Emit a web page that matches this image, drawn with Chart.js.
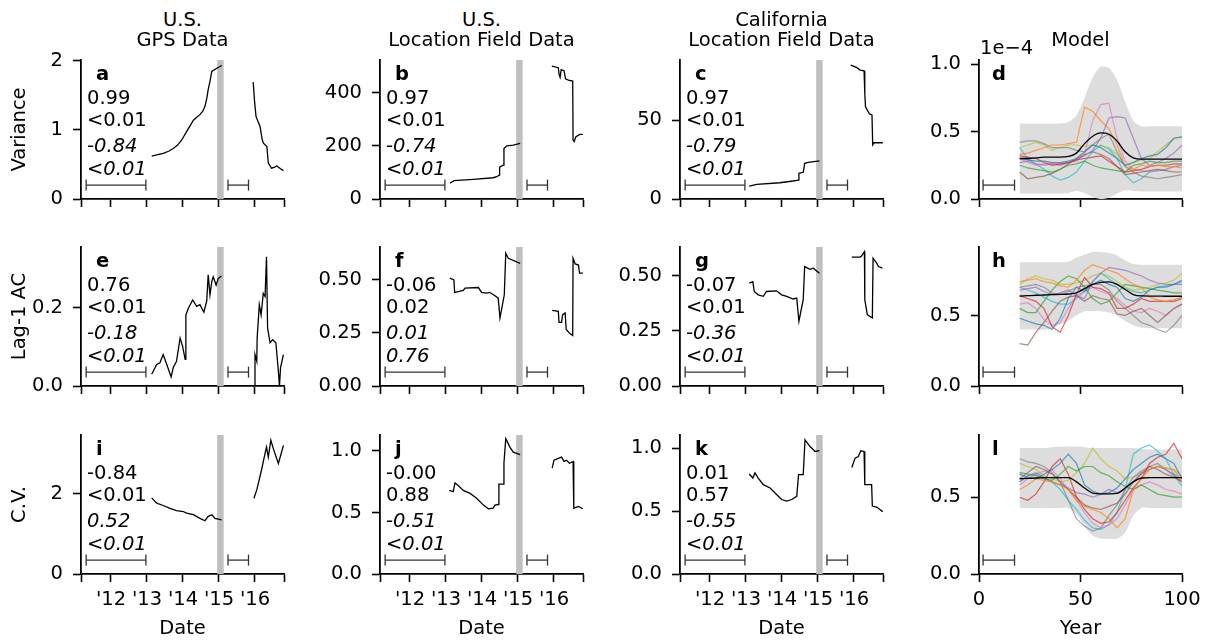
<!DOCTYPE html>
<html><head><meta charset="utf-8">
<script src="https://cdn.jsdelivr.net/npm/chart.js"></script>
<style>
body{margin:0;width:1209px;height:641px;background:#fff;position:relative;overflow:hidden;font-family:"DejaVu Sans",sans-serif;}
canvas{position:absolute;}
.t{position:absolute;font-size:19.5px;line-height:19.5px;white-space:nowrap;color:#000;}
</style></head><body>
<script>
// ---------- axes / ticks ----------
const dateRange = [2011.167, 2016.806];
const yearTicks = [2012, 2013, 2014, 2015, 2016];
const yearLabels = ["'12", "'13", "'14", "'15", "'16"];
const modelTicks = [0, 50, 100];
const modelLabels = ["0", "50", "100"];
const closureBand = [2014.95, 2015.13];
const dateWindows = [[2011.31, 2012.97], [2015.25, 2015.82]];
const modelWindow = [2, 17.5];
const rowTitles = ["Variance", "Lag-1 AC", "C.V."];
const colTitles = [["U.S.", "GPS Data"], ["U.S.", "Location Field Data"], ["California", "Location Field Data"], ["Model"]];
const panelLetters = ["a","b","c","d","e","f","g","h","i","j","k","l"];
const panelStats = {
  a: ["0.99","<0.01","-0.84","<0.01"], b: ["0.97","<0.01","-0.74","<0.01"], c: ["0.97","<0.01","-0.79","<0.01"],
  e: ["0.76","<0.01","-0.18","<0.01"], f: ["-0.06","0.02","0.01","0.76"], g: ["-0.07","<0.01","-0.36","<0.01"],
  i: ["-0.84","<0.01","0.52","<0.01"], j: ["-0.00","0.88","-0.51","<0.01"], k: ["0.01","0.57","-0.55","<0.01"]
};
const yTicksA = [0,1,2], yTicksB = [0,200,400], yTicksC = [0,50], yTicksD = [0,0.5,1.0];
const yTicksE = [0,0.2], yTicksF = [0,0.25,0.5], yTicksG = [0,0.25,0.5], yTicksH = [0,0.5];
const yTicksI = [0,2], yTicksJ = [0,0.5,1.0], yTicksK = [0,0.5,1.0], yTicksL = [0,0.5];
const yMaxes = {a:2.01,b:523,c:88,d:1.03,e:0.354,f:0.655,g:0.631,h:0.985,i:3.47,j:1.13,k:1.105,l:0.905};

// ---------- observed series: [year, value] ----------
const aSeg1 = [[2013.13,0.62],[2013.30,0.64],[2013.45,0.66],[2013.60,0.69],[2013.73,0.73],[2013.85,0.78],[2013.96,0.85],[2014.10,0.975],[2014.20,1.06],[2014.29,1.14],[2014.40,1.19],[2014.47,1.22],[2014.55,1.27],[2014.61,1.34],[2014.66,1.45],[2014.70,1.58],[2014.75,1.70],[2014.80,1.845],[2014.94,1.89],[2015.08,1.93]];
const aSeg2 = [[2015.95,1.69],[2015.99,1.40],[2016.03,1.19],[2016.14,1.05],[2016.20,0.86],[2016.23,0.81],[2016.33,0.76],[2016.37,0.52],[2016.46,0.445],[2016.55,0.46],[2016.60,0.48],[2016.70,0.44],[2016.79,0.41]];
const bSeg1 = [[2013.11,59],[2013.22,69],[2013.76,74],[2014.31,80],[2014.41,84],[2014.48,90],[2014.49,120],[2014.60,128],[2014.61,190],[2014.69,200],[2014.87,203],[2015.06,209]];
const bSeg2 = [[2015.94,500],[2016.12,494],[2016.14,470],[2016.17,458],[2016.20,487],[2016.28,483],[2016.32,452],[2016.40,447],[2016.52,444],[2016.53,222],[2016.56,216],[2016.61,234],[2016.72,243],[2016.80,243]];
const cSeg1 = [[2013.09,8.2],[2013.30,9.3],[2013.94,10.3],[2014.31,11.4],[2014.45,12],[2014.47,16.3],[2014.59,16.9],[2014.63,22.6],[2014.73,23.2],[2015.04,24.2]];
const cSeg2 = [[2015.91,84.8],[2016.07,83.3],[2016.17,81.6],[2016.28,81.2],[2016.30,67],[2016.32,58.4],[2016.43,53.8],[2016.50,53.2],[2016.52,34.2],[2016.56,35.6],[2016.80,35.6]];
const eSeg1 = [[2013.13,0.030],[2013.27,0.055],[2013.36,0.059],[2013.45,0.080],[2013.55,0.055],[2013.67,0.023],[2013.73,0.047],[2013.82,0.063],[2013.92,0.122],[2013.99,0.101],[2014.06,0.068],[2014.08,0.181],[2014.15,0.198],[2014.27,0.219],[2014.38,0.203],[2014.47,0.207],[2014.58,0.188],[2014.66,0.217],[2014.70,0.283],[2014.75,0.232],[2014.80,0.266],[2014.84,0.278],[2014.92,0.257],[2014.98,0.274],[2015.07,0.280]];
const eSeg2 = [[2015.98,0.0],[2016.0,0.080],[2016.05,0.063],[2016.06,0.122],[2016.12,0.207],[2016.17,0.181],[2016.23,0.236],[2016.28,0.228],[2016.32,0.329],[2016.35,0.148],[2016.42,0.110],[2016.49,0.118],[2016.58,0.110],[2016.65,0.038],[2016.68,0.0],[2016.71,0.047],[2016.79,0.080]];
const fSeg1 = [[2013.11,0.508],[2013.22,0.50],[2013.24,0.441],[2013.34,0.445],[2013.48,0.45],[2013.53,0.461],[2013.90,0.464],[2013.99,0.441],[2014.13,0.438],[2014.22,0.441],[2014.36,0.425],[2014.45,0.414],[2014.50,0.32],[2014.62,0.43],[2014.66,0.625],[2014.73,0.602],[2015.06,0.578]];
const fSeg2 = [[2015.95,0.356],[2016.12,0.352],[2016.14,0.30],[2016.21,0.30],[2016.24,0.336],[2016.31,0.344],[2016.34,0.266],[2016.44,0.247],[2016.52,0.238],[2016.53,0.602],[2016.59,0.575],[2016.68,0.57],[2016.71,0.532],[2016.81,0.532]];
const gSeg1 = [[2013.09,0.467],[2013.19,0.474],[2013.23,0.429],[2013.34,0.414],[2013.48,0.407],[2013.57,0.429],[2013.85,0.432],[2013.99,0.414],[2014.13,0.407],[2014.31,0.395],[2014.41,0.399],[2014.47,0.294],[2014.59,0.392],[2014.63,0.542],[2014.78,0.53],[2014.87,0.535],[2015.04,0.512]];
const gSeg2 = [[2015.94,0.585],[2016.17,0.585],[2016.21,0.59],[2016.29,0.61],[2016.30,0.392],[2016.37,0.324],[2016.44,0.316],[2016.51,0.309],[2016.53,0.58],[2016.63,0.558],[2016.68,0.542],[2016.79,0.535]];
const iSeg1 = [[2013.13,1.90],[2013.27,1.77],[2013.45,1.71],[2013.64,1.64],[2013.82,1.58],[2014.01,1.56],[2014.10,1.52],[2014.29,1.48],[2014.47,1.39],[2014.61,1.33],[2014.70,1.44],[2014.80,1.48],[2014.89,1.39],[2015.07,1.35]];
const iSeg2 = [[2015.97,1.89],[2016.05,2.10],[2016.18,2.59],[2016.28,3.01],[2016.32,3.17],[2016.37,2.92],[2016.44,3.34],[2016.51,3.13],[2016.65,2.76],[2016.79,3.21]];
const jSeg1 = [[2013.09,0.68],[2013.20,0.67],[2013.25,0.74],[2013.34,0.72],[2013.48,0.68],[2013.67,0.655],[2013.85,0.615],[2014.04,0.56],[2014.18,0.53],[2014.31,0.535],[2014.36,0.56],[2014.45,0.565],[2014.47,0.73],[2014.59,0.73],[2014.61,0.9],[2014.66,1.1],[2014.78,1.03],[2014.87,0.99],[2015.06,0.97]];
const jSeg2 = [[2015.95,0.86],[2016.0,0.925],[2016.12,0.94],[2016.21,0.95],[2016.28,0.915],[2016.35,0.925],[2016.43,0.9],[2016.53,0.915],[2016.55,0.535],[2016.68,0.55],[2016.8,0.53]];
const kSeg1 = [[2013.09,0.795],[2013.19,0.763],[2013.25,0.803],[2013.34,0.763],[2013.48,0.71],[2013.67,0.684],[2013.85,0.632],[2013.99,0.592],[2014.13,0.579],[2014.27,0.592],[2014.41,0.618],[2014.46,0.79],[2014.59,0.79],[2014.64,1.066],[2014.78,1.013],[2014.92,0.974],[2015.04,0.98]];
const kSeg2 = [[2015.94,0.847],[2016.03,0.921],[2016.12,0.934],[2016.19,0.979],[2016.28,0.974],[2016.30,0.71],[2016.49,0.71],[2016.51,0.54],[2016.63,0.532],[2016.8,0.495]];

// ---------- model: years grid and runs ----------
const modelYears = [20,24,28,32,36,40,44,48,52,56,60,64,68,72,76,80,84,88,92,96,100];
const runColors = ['rgba(31,119,180,0.7)','rgba(255,127,14,0.7)','rgba(44,160,44,0.7)','rgba(214,39,40,0.7)','rgba(148,103,189,0.7)','rgba(140,86,75,0.7)','rgba(227,119,194,0.7)','rgba(127,127,127,0.7)','rgba(188,189,34,0.7)','rgba(23,190,207,0.7)'];
// order: blue, orange, green, red, purple, brown, pink, gray, olive, cyan
const dRuns = [
  [0.30,0.29,0.28,0.28,0.27,0.27,0.28,0.30,0.35,0.40,0.38,0.34,0.30,0.25,0.27,0.30,0.32,0.33,0.38,0.45,0.46],
  [0.33,0.34,0.36,0.38,0.40,0.40,0.41,0.42,0.68,0.65,0.58,0.52,0.40,0.24,0.22,0.25,0.24,0.25,0.24,0.24,0.23],
  [0.25,0.23,0.22,0.21,0.20,0.22,0.25,0.26,0.28,0.25,0.23,0.22,0.21,0.20,0.25,0.26,0.28,0.27,0.27,0.28,0.28],
  [0.32,0.31,0.30,0.27,0.25,0.26,0.27,0.29,0.30,0.31,0.32,0.28,0.24,0.20,0.21,0.22,0.24,0.25,0.25,0.26,0.26],
  [0.27,0.28,0.26,0.25,0.26,0.25,0.27,0.29,0.32,0.36,0.45,0.60,0.61,0.60,0.45,0.30,0.25,0.27,0.30,0.34,0.40],
  [0.20,0.15,0.16,0.17,0.19,0.22,0.26,0.30,0.33,0.35,0.33,0.30,0.24,0.18,0.19,0.20,0.21,0.22,0.21,0.20,0.20],
  [0.30,0.27,0.25,0.26,0.27,0.26,0.27,0.28,0.33,0.58,0.70,0.71,0.45,0.28,0.22,0.21,0.20,0.21,0.22,0.24,0.25],
  [0.42,0.43,0.43,0.41,0.38,0.38,0.38,0.36,0.35,0.40,0.45,0.48,0.35,0.24,0.20,0.17,0.16,0.15,0.16,0.17,0.18],
  [0.38,0.40,0.42,0.40,0.36,0.38,0.40,0.40,0.39,0.40,0.39,0.38,0.33,0.25,0.27,0.29,0.30,0.35,0.40,0.45,0.46],
  [0.38,0.30,0.26,0.22,0.17,0.14,0.16,0.20,0.28,0.35,0.40,0.37,0.30,0.18,0.12,0.15,0.20,0.21,0.22,0.24,0.25]
];
const dUpper = [0.56,0.56,0.56,0.56,0.56,0.56,0.57,0.62,0.75,0.90,0.98,0.97,0.88,0.72,0.58,0.54,0.54,0.54,0.54,0.54,0.54];
const dLower = [0.04,0.04,0.04,0.04,0.04,0.04,0.045,0.06,0.045,0.015,0.0,0.01,0.04,0.065,0.06,0.055,0.055,0.055,0.055,0.055,0.055];
const dMean = [0.30,0.30,0.305,0.31,0.31,0.31,0.315,0.34,0.41,0.465,0.49,0.48,0.43,0.35,0.305,0.295,0.295,0.295,0.295,0.295,0.295];

const hRuns = [
  [0.48,0.46,0.44,0.43,0.40,0.48,0.62,0.70,0.67,0.72,0.75,0.72,0.70,0.62,0.60,0.63,0.68,0.70,0.70,0.72,0.75],
  [0.74,0.75,0.76,0.74,0.73,0.71,0.70,0.75,0.82,0.86,0.84,0.82,0.80,0.76,0.72,0.70,0.63,0.61,0.60,0.61,0.63],
  [0.55,0.52,0.52,0.60,0.68,0.74,0.78,0.76,0.70,0.62,0.58,0.60,0.66,0.72,0.71,0.70,0.69,0.68,0.67,0.66,0.66],
  [0.64,0.62,0.60,0.55,0.42,0.38,0.50,0.65,0.77,0.70,0.69,0.66,0.55,0.55,0.58,0.62,0.60,0.60,0.60,0.60,0.62],
  [0.68,0.69,0.70,0.67,0.65,0.66,0.68,0.64,0.62,0.74,0.80,0.84,0.83,0.82,0.80,0.78,0.75,0.73,0.72,0.72,0.72],
  [0.30,0.29,0.38,0.45,0.53,0.60,0.63,0.64,0.60,0.64,0.62,0.61,0.51,0.50,0.53,0.55,0.50,0.45,0.50,0.55,0.58],
  [0.58,0.59,0.55,0.47,0.43,0.45,0.55,0.64,0.67,0.70,0.67,0.65,0.62,0.57,0.53,0.52,0.55,0.53,0.50,0.55,0.58],
  [0.70,0.71,0.72,0.70,0.66,0.65,0.67,0.70,0.71,0.72,0.72,0.68,0.60,0.55,0.50,0.45,0.43,0.40,0.38,0.43,0.50],
  [0.72,0.76,0.78,0.76,0.75,0.72,0.72,0.73,0.75,0.78,0.80,0.78,0.74,0.70,0.68,0.69,0.70,0.72,0.73,0.75,0.80],
  [0.70,0.68,0.66,0.63,0.60,0.58,0.58,0.62,0.67,0.74,0.80,0.76,0.72,0.69,0.67,0.66,0.68,0.70,0.71,0.72,0.74]
];
const hUpper = [0.877,0.877,0.877,0.877,0.877,0.877,0.88,0.91,0.93,0.95,0.95,0.945,0.925,0.89,0.865,0.86,0.86,0.86,0.86,0.86,0.86];
const hLower = [0.40,0.40,0.40,0.40,0.41,0.436,0.46,0.50,0.53,0.53,0.53,0.52,0.50,0.46,0.43,0.413,0.41,0.41,0.41,0.41,0.41];
const hMean = [0.637,0.64,0.643,0.645,0.647,0.649,0.652,0.66,0.69,0.72,0.735,0.738,0.72,0.684,0.648,0.638,0.637,0.637,0.636,0.636,0.636];

const lRuns = [
  [0.65,0.63,0.62,0.65,0.68,0.72,0.78,0.72,0.58,0.54,0.52,0.53,0.56,0.62,0.68,0.72,0.76,0.78,0.75,0.72,0.62],
  [0.55,0.58,0.62,0.61,0.60,0.58,0.55,0.48,0.44,0.42,0.40,0.36,0.30,0.36,0.55,0.62,0.68,0.70,0.69,0.68,0.60],
  [0.66,0.65,0.64,0.62,0.61,0.65,0.70,0.67,0.70,0.70,0.66,0.64,0.60,0.57,0.55,0.58,0.55,0.52,0.51,0.50,0.50],
  [0.50,0.48,0.52,0.60,0.70,0.75,0.65,0.50,0.42,0.36,0.33,0.34,0.40,0.48,0.56,0.62,0.72,0.76,0.78,0.85,0.75],
  [0.60,0.64,0.66,0.63,0.60,0.58,0.56,0.53,0.52,0.50,0.52,0.55,0.53,0.55,0.60,0.66,0.68,0.70,0.68,0.65,0.62],
  [0.62,0.66,0.70,0.68,0.65,0.60,0.55,0.50,0.45,0.43,0.42,0.44,0.46,0.52,0.60,0.65,0.70,0.68,0.65,0.63,0.60],
  [0.58,0.62,0.65,0.67,0.68,0.62,0.55,0.48,0.40,0.33,0.30,0.32,0.36,0.45,0.55,0.58,0.60,0.58,0.55,0.54,0.52],
  [0.75,0.73,0.72,0.70,0.66,0.60,0.48,0.36,0.31,0.28,0.30,0.38,0.45,0.55,0.63,0.67,0.70,0.72,0.68,0.64,0.60],
  [0.72,0.70,0.68,0.64,0.62,0.60,0.61,0.66,0.72,0.82,0.75,0.70,0.67,0.62,0.63,0.65,0.68,0.70,0.69,0.68,0.64],
  [0.60,0.64,0.65,0.62,0.60,0.55,0.48,0.42,0.35,0.30,0.29,0.32,0.40,0.55,0.78,0.82,0.84,0.80,0.75,0.65,0.57]
];
const lUpper = [0.82,0.82,0.82,0.82,0.825,0.83,0.83,0.83,0.825,0.82,0.82,0.82,0.82,0.82,0.82,0.815,0.81,0.81,0.81,0.81,0.81];
const lLower = [0.43,0.43,0.43,0.43,0.43,0.43,0.43,0.39,0.31,0.25,0.23,0.23,0.23,0.27,0.38,0.43,0.43,0.43,0.43,0.43,0.43];
const lMean = [0.62,0.622,0.625,0.627,0.628,0.628,0.628,0.60,0.56,0.527,0.522,0.522,0.525,0.56,0.60,0.625,0.628,0.628,0.628,0.628,0.628];

// ---------- layout ----------
const COL_L = [81, 380, 680, 979];
const ROW_T = [60, 247, 435];
const AREA_W = 203, AREA_H = 139, PAD_T = 15, PAD_R = 24, Y_W = 81;
const FONT = {family: 'DejaVu Sans', size: 19.5};

const bandPlugin = {
  id: 'band',
  beforeDatasetsDraw(chart, args, opts) {
    if (!opts.range) return;
    const {ctx, chartArea, scales} = chart;
    const x0 = scales.x.getPixelForValue(opts.range[0]);
    const x1 = scales.x.getPixelForValue(opts.range[1]);
    ctx.save(); ctx.fillStyle = opts.color;
    ctx.fillRect(x0, chartArea.top, x1 - x0, chartArea.bottom - chartArea.top);
    ctx.restore();
  }
};

function seriesDataset(seg1, seg2) {
  const pts = seg1.map(([x, y]) => ({x, y}));
  pts.push({x: (seg1[seg1.length - 1][0] + seg2[0][0]) / 2, y: null});
  seg2.forEach(([x, y]) => pts.push({x, y}));
  return {data: pts, borderColor: '#000', borderWidth: 1.3, spanGaps: false, order: 1, pointRadius: 0};
}
function windowDataset(range, y) {
  return {data: range.map(x => ({x, y})), borderColor: '#333', borderWidth: 1.3, pointStyle: 'line',
    pointRadius: 5.5, pointRotation: 90, pointBorderColor: '#333', pointBorderWidth: 1.3, order: 0};
}
function modelDatasets(upper, lower, runs, mean) {
  const pts = arr => modelYears.map((x, i) => ({x, y: arr[i]}));
  const ds = [
    {data: pts(upper), borderWidth: 1, borderColor: 'rgba(0,0,0,0)', backgroundColor: '#dddddd', fill: '+1', order: 5, tension: 0.3, pointRadius: 0},
    {data: pts(lower), borderWidth: 1, borderColor: 'rgba(0,0,0,0)', backgroundColor: '#dddddd', fill: false, order: 5, tension: 0.3, pointRadius: 0}
  ];
  runs.forEach((r, i) => ds.push({data: pts(r), borderColor: runColors[i], borderWidth: 1.2, order: 2, pointRadius: 0}));
  ds.push({data: pts(mean), borderColor: '#000', borderWidth: 1.3, order: 1, cubicInterpolationMode: 'monotone', pointRadius: 0});
  return ds;
}

function makePanel(p) {
  const row = p.row, col = p.col;
  const H = row === 2 ? 67 : 22;
  const cw = Y_W + AREA_W + PAD_R, ch = PAD_T + AREA_H + H;
  const cv = document.createElement('canvas');
  cv.width = cw; cv.height = ch;
  cv.style.left = (COL_L[col] - Y_W) + 'px'; cv.style.top = (ROW_T[row] - PAD_T) + 'px';
  cv.style.width = cw + 'px'; cv.style.height = ch + 'px';
  document.body.appendChild(cv);
  const grid = {drawOnChartArea: false, drawTicks: true, tickLength: 8, tickWidth: 1.6, tickColor: '#000'};
  const border = {display: true, color: '#000', width: 1.8};
  new Chart(cv, {
    type: 'line',
    data: {datasets: p.datasets},
    options: {
      responsive: false, animation: false, devicePixelRatio: 1,
      layout: {padding: {left: 0, top: PAD_T, right: PAD_R, bottom: 0}},
      plugins: {legend: {display: false}, tooltip: {enabled: false}, band: {range: p.band, color: '#bfbfbf'}},
      elements: {point: {radius: 0}, line: {tension: 0}},
      scales: {
        x: {type: 'linear', min: p.xMin, max: p.xMax,
          afterBuildTicks: a => { a.ticks = p.xTicks.map(v => ({value: v})); },
          afterFit: s => { s.height = H; s.paddingLeft = 0; s.paddingRight = 0; },
          ticks: {autoSkip: false, maxRotation: 0, minRotation: 0, padding: 6, font: FONT, color: '#000',
            callback: v => row === 2 ? p.xFmt(v) : ''},
          grid, border,
          title: {display: row === 2, text: p.xTitle, font: FONT, color: '#000', padding: {top: 0, bottom: 0}}
        },
        y: {type: 'linear', min: 0, max: p.yMax,
          afterBuildTicks: a => { a.ticks = p.yTicks.map(v => ({value: v})); },
          afterFit: s => { s.width = Y_W; s.paddingTop = 0; s.paddingBottom = 0; },
          ticks: {padding: 10, font: FONT, color: '#000', callback: v => Number(v).toFixed(p.yDec)},
          grid, border,
          title: {display: col === 0, text: rowTitles[row], font: FONT, color: '#000', padding: {top: 8, bottom: 0}}
        }
      }
    },
    plugins: [bandPlugin]
  });
}

const dateFmt = v => { const i = yearTicks.indexOf(v); return i >= 0 ? yearLabels[i] : ''; };
const modelFmt = v => { const i = modelTicks.indexOf(v); return i >= 0 ? modelLabels[i] : ''; };
const dateXTicks = [dateRange[0], ...yearTicks, dateRange[1]];

function datePanel(letter, row, col, seg1, seg2, yTicks, yDec) {
  const yMax = yMaxes[letter];
  const yb = yMax * 0.1;
  makePanel({row, col, xMin: dateRange[0], xMax: dateRange[1], xTicks: dateXTicks, xFmt: dateFmt, xTitle: 'Date',
    yMax, yTicks, yDec, band: closureBand,
    datasets: [seriesDataset(seg1, seg2), windowDataset(dateWindows[0], yb), windowDataset(dateWindows[1], yb)]});
}
function modelPanel(letter, row, upper, lower, runs, mean, yTicks) {
  const yMax = yMaxes[letter];
  makePanel({row, col: 3, xMin: 0, xMax: 100, xTicks: modelTicks, xFmt: modelFmt, xTitle: 'Year',
    yMax, yTicks, yDec: 1, band: null,
    datasets: [...modelDatasets(upper, lower, runs, mean), windowDataset(modelWindow, yMax * 0.1)]});
}

datePanel('a', 0, 0, aSeg1, aSeg2, yTicksA, 0);
datePanel('b', 0, 1, bSeg1, bSeg2, yTicksB, 0);
datePanel('c', 0, 2, cSeg1, cSeg2, yTicksC, 0);
modelPanel('d', 0, dUpper, dLower, dRuns, dMean, yTicksD);
datePanel('e', 1, 0, eSeg1, eSeg2, yTicksE, 1);
datePanel('f', 1, 1, fSeg1, fSeg2, yTicksF, 2);
datePanel('g', 1, 2, gSeg1, gSeg2, yTicksG, 2);
modelPanel('h', 1, hUpper, hLower, hRuns, hMean, yTicksH);
datePanel('i', 2, 0, iSeg1, iSeg2, yTicksI, 0);
datePanel('j', 2, 1, jSeg1, jSeg2, yTicksJ, 1);
datePanel('k', 2, 2, kSeg1, kSeg2, yTicksK, 1);
modelPanel('l', 2, lUpper, lLower, lRuns, lMean, yTicksL);

// ---------- text ----------
function addText(txt, x, y, style) {
  const d = document.createElement('div');
  d.className = 't'; d.textContent = txt;
  d.style.left = x + 'px'; d.style.top = y + 'px';
  Object.assign(d.style, style || {});
  document.body.appendChild(d);
}
colTitles.forEach((lines, c) => {
  const cx = COL_L[c] + AREA_W / 2;
  if (lines.length === 2) {
    addText(lines[0], cx, 9.5, {transform: 'translateX(-50%)'});
    addText(lines[1], cx, 30.2, {transform: 'translateX(-50%)'});
  } else {
    addText(lines[0], cx, 29.5, {transform: 'translateX(-50%)'});
  }
});
addText('1e\u22124', 980, 37.5);
panelLetters.forEach((L, i) => {
  const row = Math.floor(i / 4), col = i % 4;
  const T = ROW_T[row], X = COL_L[col];
  addText(L, X + (col === 3 ? 13 : 15), T + 3.5, {fontWeight: 'bold'});
  const st = panelStats[L];
  if (st) {
    const tops = [27.5, 50.2, 76.2, 98.5];
    st.forEach((s, k) => addText(s, X + 6, T + tops[k], k >= 2 ? {fontStyle: 'italic'} : {}));
  }
});
</script>
</body></html>
